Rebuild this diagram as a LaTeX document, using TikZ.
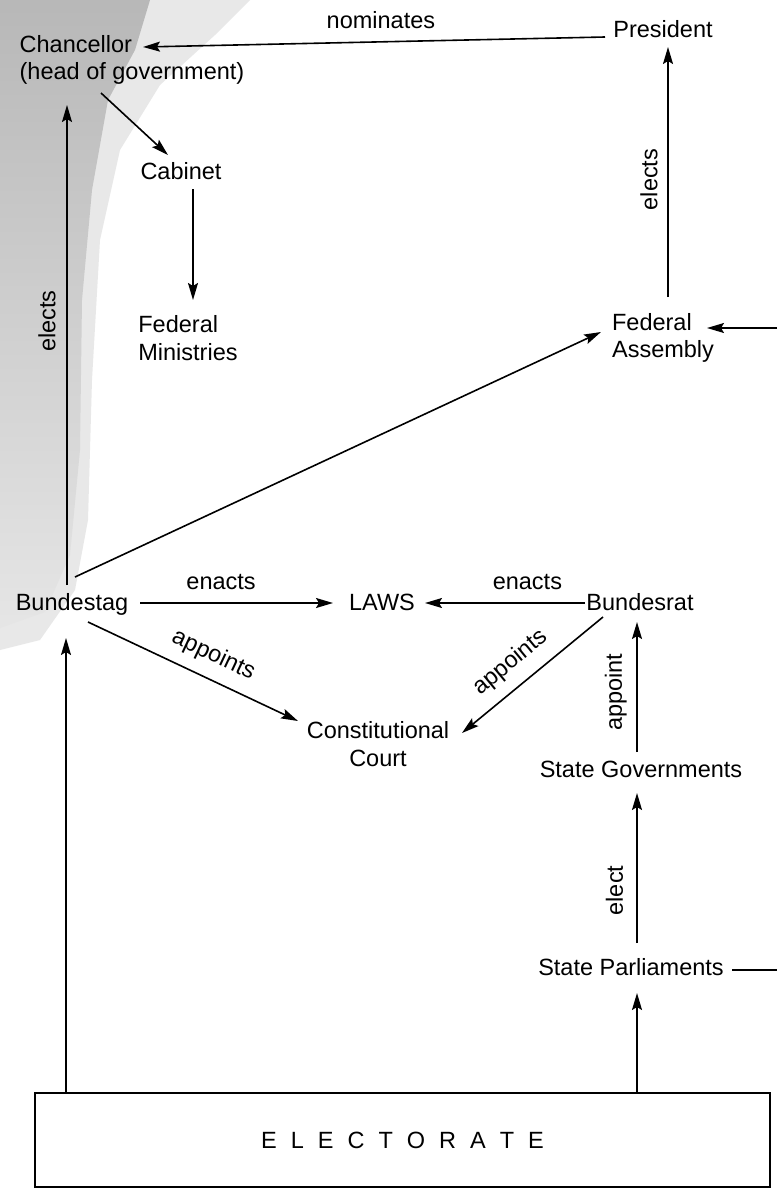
\documentclass[tikz,border=0pt]{standalone}
\usepackage{fontspec}
\setmainfont{Liberation Sans}
\usetikzlibrary{arrows.meta}
\begin{document}
\begin{tikzpicture}[x=1pt,y=-1pt,
  every node/.style={font=\fontsize{23.5}{27.5}\selectfont, inner sep=0pt},
  onel/.style={text height=17pt,text depth=5pt},
  twol/.style={align=left},
  arr/.style={line width=1.6pt,-{Stealth[length=17pt,width=10pt,inset=3pt]}},
  plainline/.style={line width=1.6pt},
  lab/.style={sloped},
]
\useasboundingbox (0,0) rectangle (777,1191);
\fill[white] (0,0) rectangle (777,1191);
% scanner shading, top left: soft outer layer, then denser inner layer
\fill[black!9] (0,0) -- (250,0) -- (215,35) -- (160,85) -- (120,150) -- (100,240) -- (92,380) -- (88,520) -- (75,590) -- (40,640) -- (0,650) -- cycle;
\begin{scope}
\clip (0,0) -- (150,0) -- (135,50) -- (108,100) -- (92,190) -- (82,300) -- (80,450) -- (70,555) -- (45,612) -- (0,628) -- cycle;
\shade[top color=black!28, bottom color=black!10] (0,0) rectangle (150,628);
\end{scope}

% nodes
\node[twol] (chancellor) at (132,60) {Chancellor\\(head of government)};
\node[onel] (president) at (663,31) {President};
\node[onel] (cabinet) at (181,173) {Cabinet};
\node[twol] (ministries) at (188,338) {Federal\\Ministries};
\node[twol] (assembly) at (663,338) {Federal\\Assembly};
\node[onel] (bundestag) at (72,604) {Bundestag};
\node[onel] (laws) at (382,604) {LAWS};
\node[onel] (bundesrat) at (640,604) {Bundesrat};
\node[align=center] (court) at (378,744) {Constitutional\\Court};
\node[onel] (stategov) at (641,771) {State Governments};
\node[onel] (statepar) at (631,969) {State Parliaments};
\node[draw, line width=1.6pt, minimum width=735pt, minimum height=94pt] (electorate) at (402.5,1140)
  {\raisebox{-9pt}{E\kern14pt L\kern14pt E\kern14pt C\kern14pt T\kern14pt O\kern14pt R\kern14pt A\kern14pt T\kern14pt E}};
\coordinate (edgeA) at (777,328);
\coordinate (edgeS) at (777,970);

% connectors
\draw[arr] ([shift={(-58,6)}]president.center) -- node[pos=0.485,above=12pt]{nominates} ([shift={(11,-13)}]chancellor.center);
\draw[arr] ([shift={(-31,33)}]chancellor.center) -- ([shift={(-13,-18)}]cabinet.center);
\draw[arr] ([shift={(12,16)}]cabinet.center) -- ([shift={(5,-38)}]ministries.center);
\draw[arr] ([shift={(5,-41)}]assembly.center) -- node[lab,pos=0.47,above=9.5pt]{elects} ([shift={(5,16)}]president.center);
\draw[arr] (edgeA) -- ([shift={(44,-10)}]assembly.center);
\draw[arr] ([shift={(-5,-19)}]bundestag.center) -- node[lab,pos=0.55,above=10.5pt]{elects} ([shift={(-65,45)}]chancellor.center);
\draw[arr] ([shift={(3,-27)}]bundestag.center) -- ([shift={(-62,-6)}]assembly.center);
\draw[arr] ([shift={(68,-1)}]bundestag.center) -- node[pos=0.42,above=12pt]{enacts} ([shift={(-49,-1)}]laws.center);
\draw[arr] ([shift={(-55,-1)}]bundesrat.center) -- node[pos=0.36,above=12pt]{enacts} ([shift={(43,-1)}]laws.center);
\draw[arr] ([shift={(16,18)}]bundestag.center) -- node[lab,pos=0.55,above=11.5pt]{appoints} ([shift={(-80,-23)}]court.center);
\draw[arr] ([shift={(-37,13)}]bundesrat.center) -- node[lab,pos=0.55,above=11.5pt]{appoints} ([shift={(84,-11)}]court.center);
\draw[arr] ([shift={(-4,-19)}]stategov.center) -- node[lab,pos=0.46,above=9.5pt]{appoint} ([shift={(-3,18)}]bundesrat.center);
\draw[arr] ([shift={(6,-26)}]statepar.center) -- node[lab,pos=0.35,above=13pt]{elect} ([shift={(-4,22)}]stategov.center);
\draw[plainline] ([shift={(101,1)}]statepar.center) -- (edgeS);
\draw[arr] ([shift={(-336.5,0)}]electorate.north) -- ([shift={(-6,34)}]bundestag.center);
\draw[arr] ([shift={(234.5,0)}]electorate.north) -- ([shift={(6,24)}]statepar.center);
\end{tikzpicture}
\end{document}
